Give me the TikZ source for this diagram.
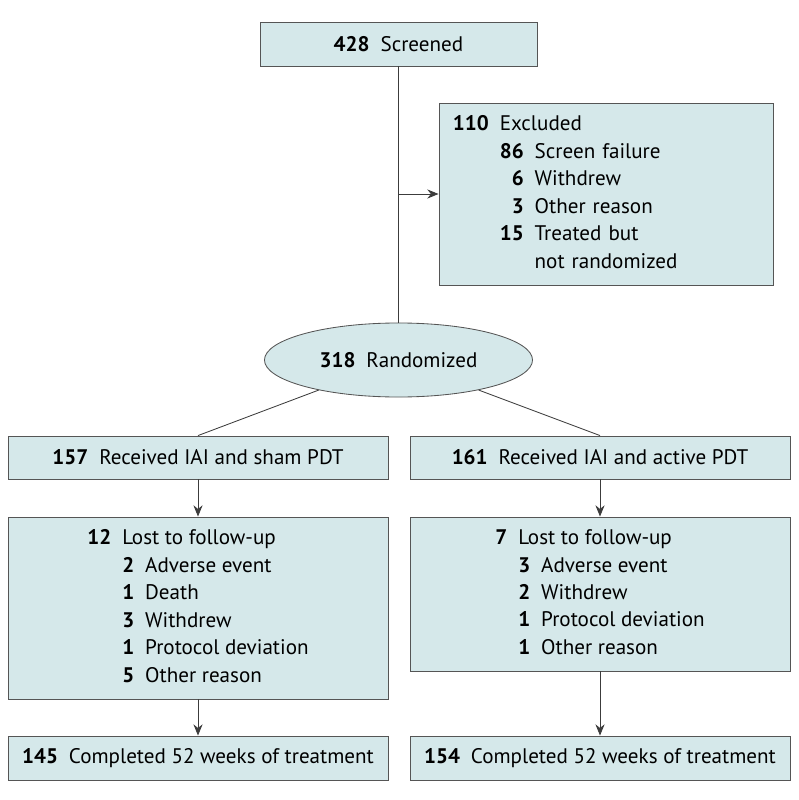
\documentclass[tikz,border=0pt]{standalone}
\usepackage{fontspec}
\setmainfont{PT Sans}
\usetikzlibrary{arrows.meta,shapes.geometric}
\definecolor{boxfill}{RGB}{213,232,234}
\definecolor{boxline}{RGB}{85,85,85}
\definecolor{linkline}{RGB}{60,60,60}
\def\nb#1{\textbf{#1}\hspace{7.8pt}}
\def\sublist#1{\begin{tabular}{@{}r@{\hspace{7.8pt}}r@{\hspace{7.8pt}}l@{}}#1\end{tabular}}
\tikzset{
	flowbox/.style={draw=boxline, fill=boxfill, line width=0.6pt, inner sep=0pt, minimum width=9.5cm, minimum height=1.1cm, font=\fontsize{15}{19.5}\selectfont},
	link/.style={draw=linkline, line width=0.6pt},
	arr/.style={link, -{Stealth[length=8pt,width=6.5pt]}}
}

\begin{document}
\begin{tikzpicture}[x=0.025cm, y=-0.025cm]
			%%%%% START %%%%%
			\useasboundingbox (0, 0) rectangle (798, 800);
			
			\node[flowbox, minimum width=6.925cm] (scr) at (398.5, 44) {\nb{428}Screened};
			
			\node[flowbox, minimum width=8.35cm, minimum height=4.55cm, text width=7.65cm, inner xsep=0.35cm, align=left] (exc) at (606, 194)
				{\sublist{\textbf{110} & \multicolumn{2}{@{}l@{}}{Excluded}\\
					& \textbf{86} & Screen failure\\
					& \textbf{6} & Withdrew\\
					& \textbf{3} & Other reason\\
					& \textbf{15} & Treated but\\
					& & not randomized}};
			
			\node[flowbox, ellipse, minimum width=6.7cm, minimum height=1.85cm] (rand) at (398.5, 360) {\nb{318}Randomized};
			
			\node[flowbox, minimum height=1.075cm] (sham) at (198, 457.5) {\nb{157}Received IAI and sham PDT};
			\node[flowbox, minimum height=1.075cm] (act) at (600, 457.5) {\nb{161}Received IAI and active PDT};
			
			\node[flowbox, minimum height=4.55cm] (lossham) at (198, 608)
				{\sublist{\textbf{12} & \multicolumn{2}{@{}l@{}}{Lost to follow-up}\\
					& \textbf{2} & Adverse event\\
					& \textbf{1} & Death\\
					& \textbf{3} & Withdrew\\
					& \textbf{1} & Protocol deviation\\
					& \textbf{5} & Other reason}};
			\node[flowbox, minimum height=3.85cm] (lossact) at (600, 594)
				{\sublist{\textbf{7} & \multicolumn{2}{@{}l@{}}{Lost to follow-up}\\
					& \textbf{3} & Adverse event\\
					& \textbf{2} & Withdrew\\
					& \textbf{1} & Protocol deviation\\
					& \textbf{1} & Other reason}};
			
			\node[flowbox] (compsham) at (198, 758) {\nb{145}Completed 52 weeks of treatment};
			\node[flowbox] (compact) at (600, 758) {\nb{154}Completed 52 weeks of treatment};
			
			\coordinate (branch) at (398.5, 194);
			\draw[link] (scr.south) -- (rand.north);
			\draw[arr] (branch) -- (exc.west);
			
			\draw[link] (rand) -- (sham.north);
			\draw[link] (rand) -- (act.north);
			
			\draw[arr] (sham.south) -- (lossham.north);
			\draw[arr] (act.south) -- (lossact.north);
			\draw[arr] (lossham.south) -- (compsham.north);
			\draw[arr] (lossact.south) -- (compact.north);
			
			%%%%% END %%%%%
\end{tikzpicture}
\end{document}
